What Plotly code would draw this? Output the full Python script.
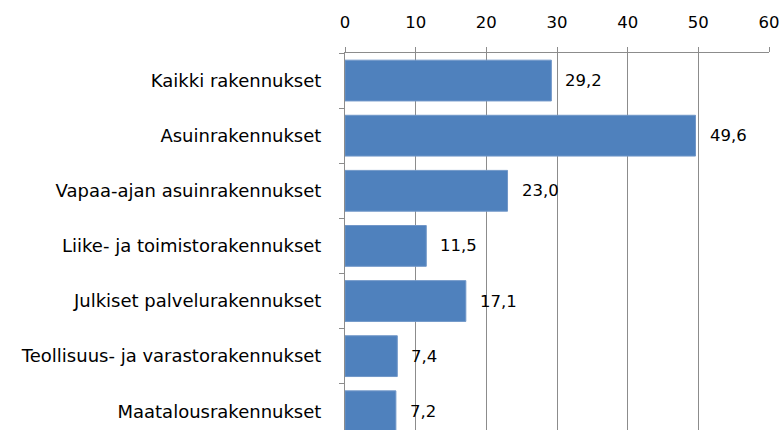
import plotly.graph_objects as go

categories = [
    "Kaikki rakennukset",
    "Asuinrakennukset",
    "Vapaa-ajan asuinrakennukset",
    "Liike- ja toimistorakennukset",
    "Julkiset palvelurakennukset",
    "Teollisuus- ja varastorakennukset",
    "Maatalousrakennukset",
]
values = [29.2, 49.6, 23.0, 11.5, 17.1, 7.4, 7.2]
value_labels = ["29,2", "49,6", "23,0", "11,5", "17,1", "7,4", "7,2"]
x_ticks = [0, 10, 20, 30, 40, 50, 60]

fig = go.Figure()
fig.add_trace(go.Bar(
    y=categories, x=values, orientation="h",
    marker=dict(color="#4F81BD", line=dict(color="#7197C8", width=1)),
    hoverinfo="skip",
))
for c, v, t in zip(categories, values, value_labels):
    fig.add_annotation(x=v, y=c, text=t, showarrow=False, xanchor="left",
                       xshift=12, font=dict(family="DejaVu Sans", size=16.5, color="#000"))

fig.update_layout(
    width=781, height=430,
    margin=dict(l=345, r=12, t=53, b=0, autoexpand=False),
    paper_bgcolor="white", plot_bgcolor="white",
    bargap=0.26, showlegend=False,
)
fig.update_xaxes(
    side="top", range=[0, 60], tickvals=x_ticks, ticktext=[str(t) for t in x_ticks],
    showgrid=True, gridcolor="#8C8C8C", gridwidth=1,
    showline=True, linecolor="#8C8C8C", linewidth=1,
    ticks="outside", ticklen=5, tickcolor="#8C8C8C",
    tickfont=dict(family="DejaVu Sans", size=16.5, color="#000"),
    ticklabelstandoff=12, automargin=False,
    zeroline=False,
)
fig.update_yaxes(
    type="category", range=[6.34, -0.5],
    showline=True, linecolor="#8C8C8C", linewidth=1,
    ticks="outside", ticklen=5, tickcolor="#8C8C8C", tickson="boundaries",
    showgrid=False, ticklabelstandoff=19, automargin=False,
    tickfont=dict(family="DejaVu Sans", size=18, color="#000"),
)
fig.write_html(
    "out.html",
    config={"displayModeBar": False},
    post_script="document.body.style.margin='0';document.body.style.overflow='hidden';",
)
